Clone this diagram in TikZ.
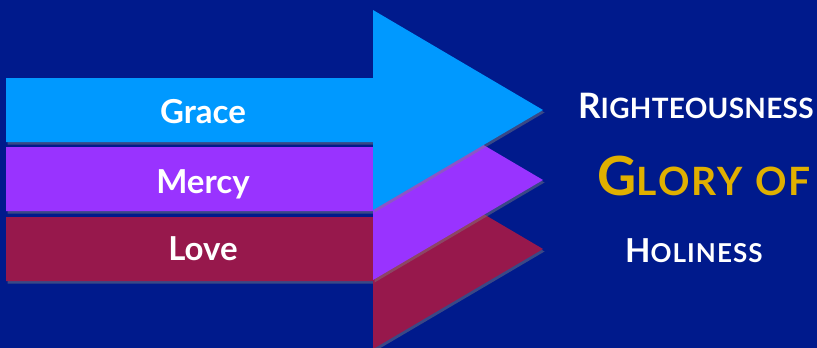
\documentclass[tikz,border=0pt]{standalone}
\usepackage{fontspec}
\setmainfont{Lato}
\usetikzlibrary{shadows}
\definecolor{bgblue}{HTML}{001A8C}
\definecolor{graceblue}{HTML}{0099FF}
\definecolor{mercypurple}{HTML}{9933FF}
\definecolor{lovered}{HTML}{97184C}
\definecolor{glorygold}{HTML}{E0B000}
\newcommand{\capword}[4]{{\fontsize{#1}{#1}\selectfont #3}{\fontsize{#2}{#2}\selectfont #4}}

\begin{document}
\begin{tikzpicture}[
        x = 1pt, y = -1pt,
MyArrow/.style={drop shadow={shadow xshift=1.5pt, shadow yshift=-2.5pt, opacity=0.45}},
MyLabel/.style={text=white, anchor=base, inner sep=0pt,
                font=\bfseries\fontsize{33}{33}\selectfont},
MyWord/.style={text=white, anchor=base west, inner sep=0pt,
               font=\bfseries\addfontfeature{LetterSpace=#1}},
  ]
\fill[bgblue] (0,0) rectangle (817,348);
\useasboundingbox (0,0) rectangle (817,348);
\fill[lovered, MyArrow] (6,217) -- (373,217) -- (373,149) -- (543,249)
      -- (373,349) -- (373,281) -- (6,281) -- cycle;
\fill[mercypurple, MyArrow] (6,147) -- (373,147) -- (373,80) -- (543,180)
      -- (373,280) -- (373,211) -- (6,211) -- cycle;
\fill[graceblue, MyArrow] (6,78) -- (373,78) -- (373,10) -- (543,110)
      -- (373,210) -- (373,142) -- (6,142) -- cycle;
\node [MyLabel] (grace) at (203,123) {Grace};
\node [MyLabel] (mercy) at (203,193) {Mercy};
\node [MyLabel] (love)  at (203,260) {Love};
\node [MyWord=1] (righteousness) at (578,118) {\capword{35}{28}{R}{IGHTEOUSNESS}};
\node [MyWord=6, text=glorygold] (glory) at (597,195) {\capword{54}{39}{G}{LORY OF}};
\node [MyWord=4] (holiness) at (625,262) {\capword{33}{26}{H}{OLINESS}};
\end{tikzpicture}
\end{document}
